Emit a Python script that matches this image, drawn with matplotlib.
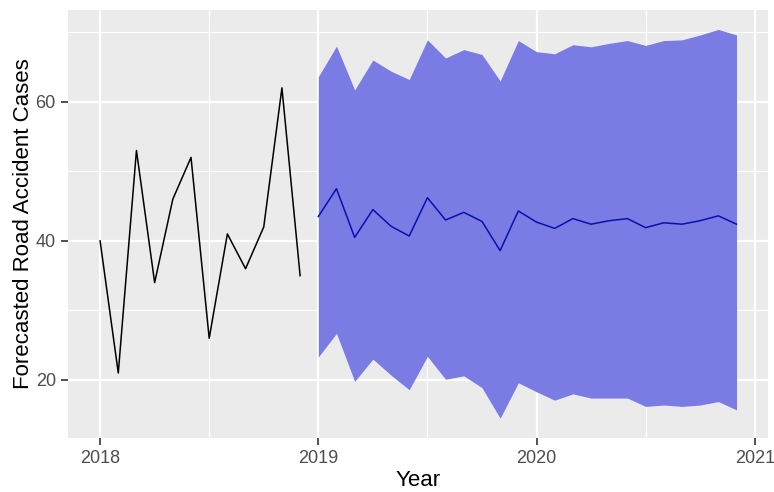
import numpy as np
import matplotlib
matplotlib.use("Agg")
import matplotlib.pyplot as plt
from matplotlib.ticker import MultipleLocator

plt.rcParams['font.family'] = ['Liberation Sans', 'DejaVu Sans']

# Monthly road accident cases, 2018
observed = [40, 21, 53, 34, 46, 52, 26, 41, 36, 42, 62, 35]
observed_start = 2018.0

# Forecast for 2019-2020: point forecast and prediction interval
forecast_mean = [43.5, 47.5, 40.5, 44.5, 42.1, 40.7, 46.2, 43.0, 44.1, 42.8, 38.6, 44.3,
                 42.7, 41.8, 43.2, 42.4, 42.9, 43.2, 41.9, 42.6, 42.4, 42.9, 43.6, 42.4]
forecast_upper = [63.6, 68.0, 61.7, 66.0, 64.4, 63.2, 68.9, 66.3, 67.5, 66.8, 63.0, 68.8,
                  67.2, 66.9, 68.2, 67.9, 68.4, 68.8, 68.1, 68.8, 68.9, 69.6, 70.4, 69.6]
forecast_lower = [23.3, 26.7, 19.8, 23.0, 20.7, 18.6, 23.4, 20.1, 20.6, 18.9, 14.5, 19.6,
                  18.3, 17.1, 18.0, 17.4, 17.4, 17.4, 16.2, 16.4, 16.2, 16.4, 16.9, 15.7]
forecast_start = 2019.0

x_ticks = [2018, 2019, 2020, 2021]
y_ticks = [20, 40, 60]

t_obs = observed_start + np.arange(len(observed)) / 12
t_fc = forecast_start + np.arange(len(forecast_mean)) / 12

fig = plt.figure(figsize=(7.74, 4.92), dpi=100)
ax = fig.add_axes([0.0882, 0.1104, 0.9045, 0.8693])
ax.set_facecolor('#EBEBEB')

ax.fill_between(t_fc, forecast_lower, forecast_upper, color='#7A7BE3', lw=0, zorder=2)
ax.plot(t_obs, observed, color='black', lw=1.1, zorder=3)
ax.plot(t_fc, forecast_mean, color='#0A10B0', lw=1.1, zorder=3)

# ggplot-style 5% expansion of the data range
all_x = np.concatenate([t_obs, t_fc])
all_y = np.concatenate([observed, forecast_lower, forecast_upper])
xr = all_x.max() - all_x.min()
yr = all_y.max() - all_y.min()
ax.set_xlim(all_x.min() - 0.05 * xr, all_x.max() + 0.05 * xr)
ax.set_ylim(all_y.min() - 0.05 * yr, all_y.max() + 0.05 * yr)

ax.set_xticks(x_ticks)
ax.set_yticks(y_ticks)
ax.xaxis.set_minor_locator(MultipleLocator(0.5))
ax.yaxis.set_minor_locator(MultipleLocator(10))
ax.grid(which='major', color='white', lw=1.6, zorder=0)
ax.grid(which='minor', color='white', lw=0.8, zorder=0)
ax.set_axisbelow(True)
for s in ax.spines.values():
    s.set_visible(False)

ax.tick_params(which='major', length=5, width=1.2, color='#333333',
               labelcolor='#4D4D4D', labelsize=13, pad=4)
ax.tick_params(which='minor', length=0)

ax.set_xlabel('Year', fontsize=16, color='black', labelpad=2)
ax.set_ylabel('Forecasted Road Accident Cases', fontsize=16, color='black', labelpad=1)

fig.savefig('out.png', dpi=100, facecolor='white')
